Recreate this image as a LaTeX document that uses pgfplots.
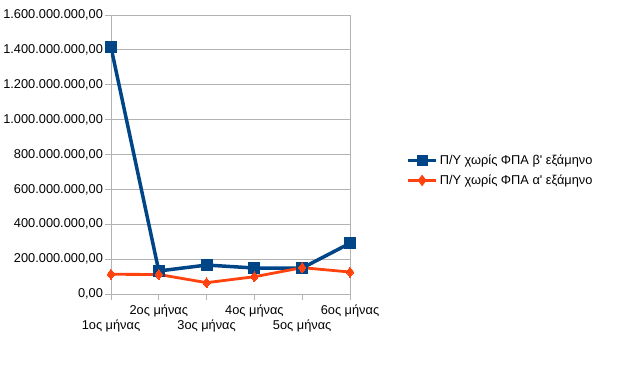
\documentclass[border=0pt]{standalone}
\usepackage{fontspec}
\newfontfamily\lib{Liberation Sans}
\usepackage{pgfplots}
\pgfplotsset{compat=1.18}
\definecolor{lblue}{HTML}{004586}
\definecolor{lorange}{HTML}{FF420E}
\definecolor{lgrid}{HTML}{B3B3B3}
\begin{document}
\lib
\begin{tikzpicture}[x=1pt,y=1pt]
\path[use as bounding box] (0,0) rectangle (625,378);
\begin{axis}[
  at={(111pt,84pt)}, anchor=south west,
  scale only axis, width=239pt, height=279pt,
  xmin=0, xmax=5, ymin=0, ymax=1.6e9,
  axis line style={lgrid},
  xtick={1,3,5}, xticklabels={2ος μήνας,4ος μήνας,6ος μήνας},
  extra x ticks={0,2,4}, extra x tick labels={1ος μήνας,3ος μήνας,5ος μήνας},
  extra x tick style={xticklabel style={yshift=-15pt}, grid=none},
  ytick={0,2e8,4e8,6e8,8e8,1e9,1.2e9,1.4e9,1.6e9},
  scaled y ticks=false,
  ymajorgrids, xmajorgrids=false,
  grid style={lgrid, line width=0.8pt},
  tick style={lgrid, line width=0.8pt},
  tick align=outside, major tick length=6pt,
  xtick pos=bottom, ytick pos=left,
  every tick label/.append style={font=\lib\fontsize{12.8}{15}\selectfont, text=black},
  yticklabel style={xshift=1.5pt, /pgf/number format/.cd, fixed, fixed zerofill, precision=2, 1000 sep={.}, dec sep={,}, assume math mode=true},
  xticklabel style={yshift=-1pt},
  legend style={draw=none, fill=none, at={(1.235,0.443)}, anchor=west, font=\lib\fontsize{12.8}{15}\selectfont, row sep=5pt, inner sep=0pt},
  legend cell align=left,
  legend image code/.code={\draw[#1] (0pt,0pt) -- (28pt,0pt); \draw[#1, mark repeat=1, mark options={scale=0.7}] plot coordinates {(14pt,0pt)};},
]
\addplot[lblue, line width=3.5pt, mark=square*, mark size=5.5pt, mark options={solid, line width=0pt}] coordinates {
(0,1.415e9) (1,1.32e8) (2,1.66e8) (3,1.49e8) (4,1.49e8) (5,2.91e8)};
\addlegendentry{Π/Υ χωρίς ΦΠΑ β' εξάμηνο}
\addplot[lorange, line width=2.8pt, mark=diamond*, mark size=5pt, mark options={solid, line width=0pt}] coordinates {
(0,1.13e8) (1,1.12e8) (2,0.65e8) (3,0.99e8) (4,1.51e8) (5,1.26e8)};
\addlegendentry{Π/Υ χωρίς ΦΠΑ α' εξάμηνο}
\end{axis}
\end{tikzpicture}
\end{document}
